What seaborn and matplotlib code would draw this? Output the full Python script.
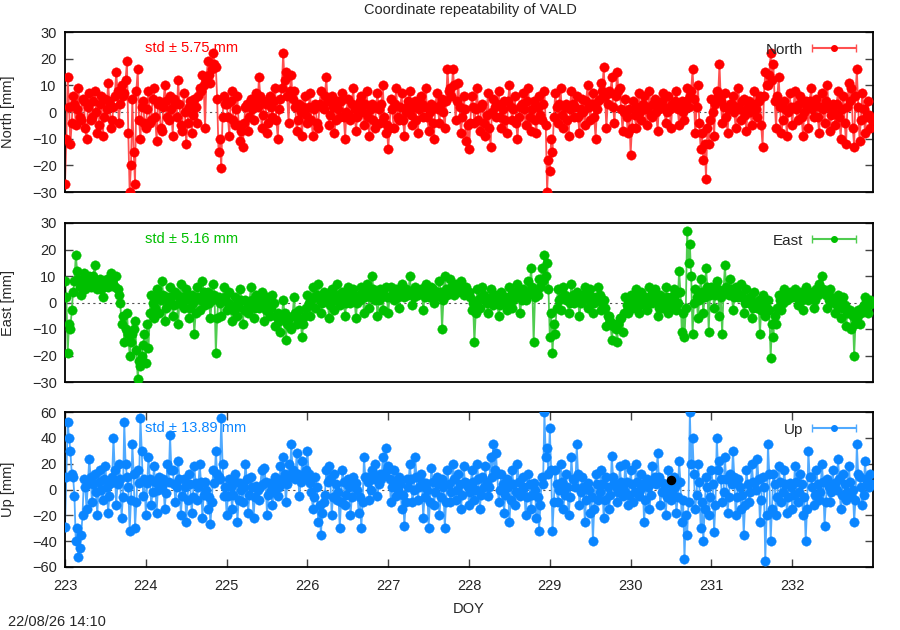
import numpy as np
import pandas as pd
import matplotlib
matplotlib.use("Agg")
import matplotlib.pyplot as plt
import seaborn as sns
from matplotlib.legend_handler import HandlerErrorbar

# ---------------- data ----------------
# Two interleaved sample sets per component: set "a" at DOY 223 + k/30,
# set "b" half a step later (the denser core of the scatter band).
doy_start = 223
samples_per_day = 30

north_mm_a = [
    -27, 13, -12, 6, -5, 9, -3, 4, -10, 7, -2, 8, -8, 3, -9, 5, 11, -6, 2, 15, -4, 10, 7, 19, -30, 5, -27, 16, -10, 4,
    -6, 8, -3, 9, -11, 4, -7, 10, -2, 6, -9, 3, 12, -5, 7, -12, 2, -8, 5, -4, 9, 14, -6, 19, 11, 22, 17, -15, -21, 6,
    3, -9, 8, -5, 6, -11, -13, 2, -7, 5, -3, 7, 13, -6, 4, -8, 6, -2, 9, -10, 5, 22, 15, -4, 14, 8, -7, 3, -9, 6,
    -4, 7, -9, 3, -6, 8, 1, 13, -5, 6, -8, 4, -2, 7, -10, 5, -3, 9, -7, 2, 6, -5, 8, -9, 3, -6, 7, -4, 10, -8,
    -14, 5, -6, 9, -3, 7, -9, 2, 8, -5, 4, -8, 6, -2, 9, -7, 3, -10, 7, -4, 5, -6, 16, 9, 16, -3, 11, -8, 6, -11,
    -14, 6, -4, 9, -7, 3, -9, 7, -13, 5, -2, 8, -6, 4, -8, 10, -3, 6, -10, 2, 7, -5, 9, -7, 4, -8, 6, -3, 8, -30,
    -22, -15, 7, -4, 9, -6, 3, -9, 8, -2, 6, -8, 5, -5, 10, -3, 7, -10, 4, 11, 17, -6, 8, 13, -4, 15, 9, -7, 5, -8,
    -16, 4, -6, 7, -3, 6, -5, 8, -2, 5, -7, 3, 7, -4, 6, -6, 2, 8, -5, 4, -3, 9, 6, 16, -8, 10, -14, -18, -25, -12,
    5, -9, 8, 18, -4, 7, -8, 3, 6, -6, 9, -3, 5, -7, 4, -5, 8, -2, 6, -13, 15, 10, 22, 18, -6, 13, -8, 4, -9, 7,
    -5, 8, -3, 6, -9, 4, -6, 9, -2, 5, -8, 7, -4, 10, -7, 3, -5, 8, -10, 6, -12, 11, 9, -13, 16, -11, 7, -8, 4, -6,
]
north_mm_b = [
    -10, 2, -4, 3, 1, -2, 5, -6, 2, -3, 4, 0, -5, 6, -2, 1, 4, -3, 6, 8, 3, 6, 12, -8, -20, -15, 8, -3, 2, -4,
    1, -4, 5, -2, 3, -6, 2, 4, -3, 1, 5, -2, 3, -7, 0, -4, 4, -1, 2, 6, 8, 10, 12, 14, 16, 18, 5, -10, -2, 3,
    -2, 4, -3, 1, -5, -7, -4, 3, -2, 1, 4, 2, 6, -1, 3, -4, 2, 4, -3, 1, 9, 12, 6, 8, 5, 2, -3, 0, 2, -1,
    2, -3, 1, -4, 3, 2, 6, 4, -1, 2, -3, 1, 4, -2, 0, -1, 3, 1, -2, 4, 0, 3, -2, 1, -3, 2, 1, 3, -2, -5,
    -6, 1, 3, -2, 2, -3, 0, 4, -1, 2, -3, 1, 3, 2, -2, 0, -4, 2, 1, 3, 0, 4, 8, 6, 10, 4, 2, -2, 1, -5,
    -4, 2, 1, -3, 2, -4, -1, -6, 0, 2, 3, -2, 1, -3, 4, 2, 1, -4, -2, 3, 1, 4, -2, 1, -3, 2, -1, 3, -5, -18,
    -10, -2, 2, 3, -1, 2, -3, 1, 3, 2, -2, 1, 0, 4, 2, 3, -2, 1, 5, 8, 6, 3, 7, 2, 6, 8, 1, 0, -2, 1,
    -6, -1, 2, 0, 3, 1, 2, -1, 3, 0, 1, 4, 2, 0, 1, 3, 4, 1, 2, 0, 4, 2, 8, 5, 2, -4, -8, -12, -6, -3,
    0, 3, 6, 4, 2, -2, 1, 3, 0, 2, 1, 4, -1, 2, 0, 3, 1, 4, -5, 6, 10, 14, 12, 4, 6, 2, -3, 1, 0, 2,
    2, 1, 3, -2, 0, 2, 4, 1, 3, -2, 2, 1, 4, 2, -1, 0, 3, -2, 1, -4, 2, 4, -6, 6, 2, -3, 1, -2, -1, -3,
]

east_mm_a = [
    8, -19, -10, 4, 18, 9, 3, 11, 6, 10, 7, 14, 5, 9, 2, 8, 6, 11, 7, 10, 3, -8, -15, -4, -20, -12, -7, -29, -24, -16,
    -23, -17, 3, -6, 5, -4, 8, -7, 2, 6, -5, 4, -8, 7, -2, 5, -6, 3, -12, 6, -3, 8, -1, 4, -6, 7, -19, 2, -5, 6,
    -3, 4, -7, 2, -5, 5, -8, 1, -4, 6, -6, 3, -2, 4, -7, 2, -5, 3, -9, -4, -11, 1, -14, -6, -10, 2, -8, -3, -13, -5,
    3, -5, 6, -2, 7, -4, 4, 1, -6, 5, -3, 7, -1, 4, -5, 6, 0, 5, -6, 3, 6, -4, 7, -2, 10, 1, -5, 5, -3, 6,
    -4, 6, 1, 5, -2, 7, 2, 4, 10, -1, 6, 3, 5, -3, 7, 2, 6, 0, 4, 8, -10, 10, 3, 9, 5, 7, 4, 8, 3, 6,
    4, -3, -15, 5, -2, 6, 1, -4, 5, -1, 3, -5, 4, 2, -3, 6, -2, 4, 7, -4, 5, 1, 8, 13, -15, 4, 9, 13, 18, 15,
    -13, -19, -12, 5, -3, 6, 1, -4, 7, 0, 4, -5, 3, 6, -2, 5, -4, 2, 6, -3, 1, -9, -5, -14, -8, -15, -6, -11, 2, -4,
    3, -2, 5, -4, 4, 1, -3, 6, 0, 5, -5, 3, -2, 6, -4, 2, 5, -3, 12, -11, -13, 27, 22, -12, 5, -6, 9, -4, 13, -11,
    6, -2, 8, -5, -12, 14, 4, 9, -3, 6, 2, 7, -4, 5, 0, -6, 4, -2, -12, 3, -5, 1, -21, -13, -8, 3, -3, 5, 1, 4,
    2, 5, -1, 4, -3, 6, 1, 3, -2, 5, 7, 10, 4, -2, 5, 1, -4, 3, -6, 2, -9, -4, -10, -20, -6, -8, -2, 2, -4, 1,
]
east_mm_b = [
    2, -8, -3, 8, 12, 6, 8, 5, 9, 6, 10, 8, 7, 5, 6, 9, 7, 8, 6, 5, 0, -5, -10, -12, -15, -10, -18, -22, -20, -12,
    -8, -4, 0, -2, 2, 1, 3, -2, 0, 2, -1, 3, 0, 2, 1, 3, -2, 0, -4, 2, 1, 4, 2, 0, 1, 3, -6, 0, 1, 2,
    0, -1, -3, -2, 0, 1, -3, -2, 0, 1, -2, 0, -1, 1, -3, -1, -2, 0, -5, -7, -6, -4, -8, -9, -5, -4, -6, -7, -8, -2,
    0, 1, 2, 3, 1, 0, 2, 3, -1, 2, 1, 3, 2, 1, 0, 3, 2, 2, 0, 1, 3, 2, 4, 2, 5, 3, 1, 2, 3, 2,
    2, 3, 4, 2, 3, 4, 5, 3, 4, 2, 3, 4, 5, 2, 4, 3, 5, 2, 3, 4, 1, 5, 4, 6, 3, 5, 6, 4, 5, 4,
    2, 0, -4, 1, 2, 3, 0, 1, 2, 1, 0, -1, 1, 2, 0, 3, 1, 2, 3, 1, 2, 3, 4, 6, 2, 3, 6, 8, 10, 5,
    -4, -8, -2, 1, 2, 3, 2, 0, 3, 2, 1, 0, 2, 3, 1, 2, 0, 1, 3, 0, -2, -5, -7, -9, -10, -8, -6, -4, -1, 0,
    1, 0, 2, -1, 1, 2, 0, 3, 2, 1, -2, 1, 0, 2, -1, 1, 3, 0, 4, -4, -2, 15, 10, 0, 2, 1, 4, 2, 6, 3,
    4, 3, 5, 2, 4, 6, 3, 5, 2, 4, 3, 2, 0, 1, 2, -2, 0, 1, -3, 0, -2, -3, -8, -5, -2, 1, 0, 2, 3, 2,
    3, 2, 3, 1, 2, 3, 2, 4, 1, 3, 4, 5, 3, 1, 2, 0, -1, 1, -2, -1, -4, -3, -5, -8, -3, -4, -1, 0, -1, 0,
]

up_mm_a = [
    -29, 52, 30, 10, -40, -52, -35, 8, -15, 24, -10, 12, -20, 15, -8, 18, -18, 5, 40, -12, 20, -22, 52, 10, -32, 35, -30, 15, 55, -5,
    -20, 25, -12, 18, -18, 10, 3, -15, 20, 42, 15, -10, 22, -20, 8, -25, 12, -18, 18, -8, 20, -22, 6, -15, -27, 15, 30, 10, 55, -5,
    -20, 8, -15, 12, -25, 5, -10, 20, -18, 10, -22, 3, -8, 15, 17, -20, 5, -12, 10, -5, 18, 25, -10, 20, 35, 12, 28, -5, 22, 10,
    30, 5, -15, 10, -25, -35, -10, 15, 18, -20, 12, -8, -30, 15, -12, 8, -20, 10, 5, -18, -30, 25, 10, -8, 15, 20, -5, 12, 25, 32,
    18, -10, 15, -5, 10, -15, -28, 8, 20, -10, 25, -8, 12, -22, 5, -30, 17, -12, 10, -20, 8, -30, 15, -10, 20, -8, 12, -15, 18, 5,
    -12, 15, -8, 20, -15, 10, 18, -5, 25, 35, 28, -10, 12, -18, 8, -25, 15, -12, 20, -5, 10, -20, 12, -15, 5, -22, -32, 10, 60, 32,
    48, -32, 15, -10, 20, -15, 12, -20, 25, 8, 35, -12, 10, -25, 5, -18, -40, 12, -8, 15, -22, 10, -15, 26, 5, -10, 18, -5, 20, -12,
    15, -10, 20, -5, 12, -25, 8, -15, 18, 10, 28, -12, 5, -20, 15, -8, 10, -18, 22, -25, -54, -35, 60, 40, -15, 20, -30, -40, 10, -20,
    15, -33, 40, 22, -10, 25, -18, 12, 30, -20, 8, -15, -35, 15, -10, 20, 5, 24, -25, 10, -55, 35, -40, 12, -20, 18, -10, 15, -18, 5,
    -15, 18, -10, 12, -20, -40, 30, 10, -12, 15, -8, 20, -28, 8, -10, 15, 5, 24, -15, 12, -8, 18, -5, -25, 35, 10, -12, 22, 5, 12,
]
up_mm_b = [
    10, 40, 12, -5, -30, -45, -20, 2, 5, 10, 4, -2, 6, 0, 8, 2, -5, 10, 15, 4, 8, -6, 20, 2, -8, 12, -10, 5, 30, 8,
    5, 8, -2, 6, 0, 4, 8, -3, 6, 15, 4, 2, 8, -5, 2, -8, 4, -6, 5, 2, 6, -4, 0, -6, -10, 5, 12, 8, 20, 2,
    -5, 2, -4, 6, -8, 0, 2, 8, -4, 2, -6, 0, 2, 4, 6, -4, 0, -2, 4, 2, 8, 12, 4, 10, 15, 8, 12, 6, 10, 15,
    12, -2, -6, 2, -12, -18, -4, 6, 8, -6, 4, -2, -10, 6, -4, 2, -6, 4, 0, -6, -10, 10, 6, 0, 8, 10, 4, 8, 12, 15,
    8, 2, 6, 0, 4, -4, -10, 2, 8, 0, 10, 2, 6, -6, 0, -10, 6, -2, 4, -6, 2, -10, 4, -2, 8, 0, 4, -4, 6, 2,
    -2, 6, 0, 8, -4, 2, 6, 2, 10, 15, 12, 0, 4, -4, 2, -8, 4, -2, 6, 0, 2, -6, 4, -4, 0, -6, -12, 4, 25, 12,
    15, -10, 4, 0, 6, -4, 2, -6, 8, 2, 12, -2, 2, -8, 0, -6, -15, 4, -2, 4, -8, 2, -4, 10, 2, -2, 6, 0, 6, -4,
    4, -2, 6, 0, 4, -8, 2, -4, 6, 4, 10, -2, 0, -6, 4, -2, 2, -6, 6, -8, -20, -10, 20, 12, -4, 6, -10, -15, 2, -6,
    4, -12, 15, 8, -2, 8, -6, 4, 10, -6, 2, -4, -12, 4, -2, 6, 0, 8, -8, 2, -20, 12, -15, 4, -6, 6, -2, 4, -6, 2,
    -4, 6, -2, 4, -6, -15, 10, 2, -4, 4, -2, 6, -10, 2, -2, 4, 0, 8, -4, 4, -2, 6, 0, -8, 12, 2, -4, 8, 2, 4,
]

# a single black reference point visible in the Up panel
up_extra_doy = [230.5]
up_extra_mm = [7.5]

components = ["North", "East", "Up"]
std_values = [5.75, 5.16, 13.89]
y_limits = [(-30, 30), (-30, 30), (-60, 60)]
y_ticks = [[-30, -20, -10, 0, 10, 20, 30], [-30, -20, -10, 0, 10, 20, 30],
           [-60, -40, -20, 0, 20, 40, 60]]
x_tick_values = list(range(223, 233))
title = "Coordinate repeatability of VALD"
timestamp = "22/08/26 14:10"

colors = ["#ff0000", "#00bf00", "#0a85ff"]
light_colors = ["#ff5050", "#50cc50", "#50aaff"]

# ---------------- styling ----------------
sns.set_style("ticks")
plt.rcParams["font.family"] = ["Liberation Sans", "DejaVu Sans"]
plt.rcParams["font.size"] = 10

fig = plt.figure(figsize=(9, 6.3), dpi=100)
ax_boxes = [
    [65 / 900, 1 - 192 / 630, 808 / 900, 160 / 630],
    [65 / 900, 1 - 382 / 630, 808 / 900, 159 / 630],
    [65 / 900, 1 - 567 / 630, 808 / 900, 155 / 630],
]

series = [(north_mm_a, north_mm_b), (east_mm_a, east_mm_b), (up_mm_a, up_mm_b)]
n = len(north_mm_a)
doy_a = doy_start + np.arange(n) / samples_per_day
doy_b = doy_a + 0.5 / samples_per_day

for i, (name, (va, vb)) in enumerate(zip(components, series)):
    ax = fig.add_axes(ax_boxes[i])
    df = pd.DataFrame({"doy": np.concatenate([doy_a, doy_b]),
                       "mm": np.concatenate([va, vb])}).sort_values("doy")
    ax.axhline(0, color="#555555", lw=0.8, ls=(0, (2, 3)), zorder=0)
    sns.lineplot(data=df, x="doy", y="mm", ax=ax, color=light_colors[i], lw=1.3,
                 estimator=None, sort=False, zorder=2)
    sns.scatterplot(data=df, x="doy", y="mm", ax=ax, color=colors[i], s=46,
                    marker="o", edgecolor=colors[i], linewidth=0.3, zorder=3)
    if name == "Up":
        ax.scatter(up_extra_doy, up_extra_mm, color="black", s=34, zorder=4)

    ax.set_xlim(223, 233)
    ax.set_ylim(*y_limits[i])
    ax.set_yticks(y_ticks[i])
    ax.set_ylabel(f"{name} [mm]", fontsize=10.5)
    ax.yaxis.set_label_coords(-0.062, 0.5)
    ax.tick_params(axis="y", direction="in", length=6, width=1, color="#444444",
                   right=True, labelsize=10.5, pad=6)
    if name == "Up":
        ax.set_xticks(x_tick_values)
        ax.tick_params(axis="x", direction="in", length=6, width=1, color="#444444",
                       top=True, labelsize=10.5, pad=9)
        ax.set_xlabel("DOY", fontsize=10.5, labelpad=6)
    else:
        ax.set_xticks([])
        ax.set_xlabel("")
    for sp in ax.spines.values():
        sp.set_visible(True)
        sp.set_linewidth(1.3)
        sp.set_color("black")

    ax.text(0.099, 0.9, f"std \u00b1 {std_values[i]:.2f} mm", transform=ax.transAxes,
            color=colors[i], fontsize=10.5, ha="left", va="center", zorder=6)

    proxy = ax.errorbar([np.nan], [np.nan], xerr=[1.0], fmt="o", color=colors[i],
                        ecolor=light_colors[i], ms=4, capsize=3, elinewidth=1.5,
                        label=name)
    leg = ax.legend(handles=[proxy], loc="upper right", frameon=False, markerfirst=False,
                    handlelength=3.2, handletextpad=0.4, fontsize=11, borderaxespad=0.3,
                    bbox_to_anchor=(0.995, 1.0),
                    handler_map={type(proxy): HandlerErrorbar(xerr_size=1.45)})
    leg.set_zorder(7)

fig.text(470 / 900, 1 - 10 / 630, title, ha="center", va="center", fontsize=10.5)
fig.text(8 / 900, 1 - 622 / 630, timestamp, ha="left", va="center", fontsize=10.5)

fig.savefig("out.png", dpi=100)
